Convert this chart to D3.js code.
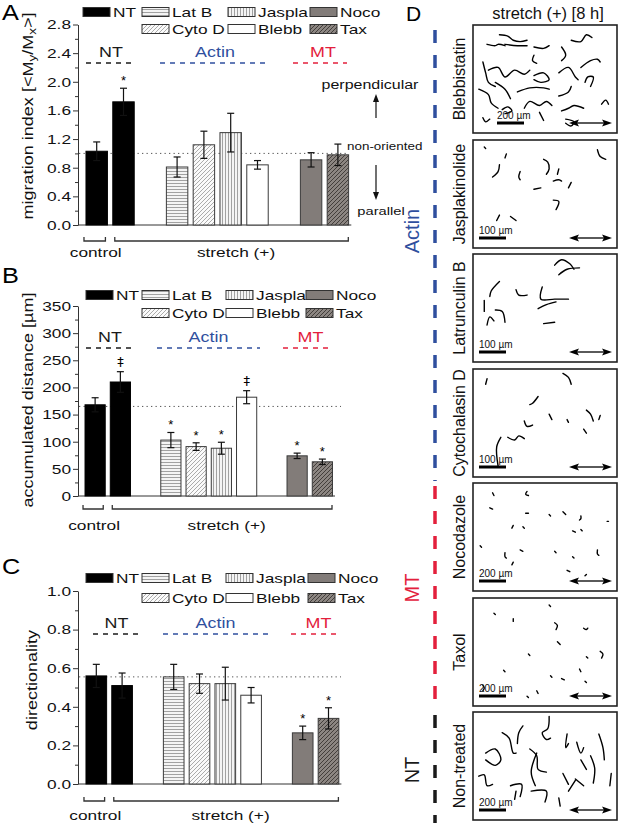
<!DOCTYPE html>
<html><head><meta charset="utf-8">
<script src="https://cdn.jsdelivr.net/npm/d3@7"></script>
<style>body{margin:0;background:#fff}svg{display:block;font-family:"Liberation Sans",Arial,sans-serif}</style>
</head><body>
<script>
// ---------- DATA ----------
const categories = ["NT control","NT","Lat B","Cyto D","Jaspla","Blebb","Noco","Tax"];
const slots = [0,1,3,4,5,6,8,9];
const legendItems = ["NT","Lat B","Jaspla","Noco","Cyto D","Blebb","Tax"];
const legendKeys  = ["NT","Lat B","Jaspla","Noco","Cyto D","Blebb","Tax"];

const migrationIndex = [1.03,1.72,0.81,1.12,1.29,0.84,0.91,0.98];
const migrationErr   = [0.13,0.19,0.14,0.19,0.27,0.06,0.10,0.15];
const migrationSig   = ["","*","","","","","",""];
const migrationTicks = [0,0.4,0.8,1.2,1.6,2.0,2.4,2.8];
const migrationMinor = [0.2,0.6,1.0,1.4,1.8,2.2,2.6];
const migrationRef = 1.0;

const distance     = [168,210,103,91,88,182,74,63];
const distanceErr  = [13,19,14,7,11,12,5,5];
const distanceSig  = ["","‡","*","*","*","‡","*","*"];
const distanceTicks = [0,50,100,150,200,250,300,350];
const distanceMinor = [25,75,125,175,225,275,325];
const distanceRef = 165;

const directionality    = [0.56,0.51,0.555,0.52,0.52,0.46,0.265,0.34];
const directionalityErr = [0.06,0.065,0.065,0.05,0.085,0.04,0.035,0.055];
const directionalitySig = ["","","","","","","*","*"];
const directionalityTicks = [0,0.2,0.4,0.6,0.8,1.0];
const directionalityMinor = [0.1,0.3,0.5,0.7,0.9];
const directionalityRef = 0.555;

const groupLabels = ["NT","Actin","MT"];

// Panel D: drug names, scale-bar labels, groups and trajectories (box units 0-100 x 0-75)
const drugNames = ["Blebbistatin","Jasplakinolide","Latrunculin B","Cytochalasin D","Nocodazole","Taxol","Non-treated"];
const scaleLabels = ["200 µm","100 µm","100 µm","100 µm","200 µm","200 µm","200 µm"];
const drugGroups = ["Actin","Actin","Actin","Actin","MT","MT","NT"];
const tracksBlebb = ["8,12 14,13 16,12 21,13","17,5 23,6 27,9 32,10 37,9","21,12 30,13 37,13","42,14 49,15 53,13","62,14 65,20 62,24","69,9 76,10 80,5 84,7","42,20 41,24 44,26","5,25 7,33 9,40 14,43","9,31 16,29 21,36 28,31 35,34 39,31","14,40 21,45 25,52","42,35 49,33 53,38 47,40 42,38","60,33 67,29 72,36 74,38","76,29 83,24 88,23 90,25","79,40 81,36 85,36 83,43","30,47 39,44 49,44 53,45","60,50 67,47 69,43","19,60 23,58 26,61 21,63","35,59 39,54 46,57 51,54 55,57","46,62 49,68","62,61 67,59 71,57 78,59","5,66 7,69 10,67","65,67 71,69 69,72 65,70","91,56 94,53 96,56","2,45 9,49 11,55 16,59"];
const tracksJaspla = ["6,3 7,4","22,8 21,11","17,16 16,21 12,25","32,21 31,25 32,27","49,12 52,14 53,19 51,23","60,19 59,23","56,28 60,27 62,28","69,29 67,33","42,34 47,33","56,42 60,43 58,49","88,5 90,10 94,12","17,53 15,57","25,54 29,57"];
const tracksLatB = ["57,6 62,2 68,5 71,9","60,13 66,9 75,8","17,18 11,25 10,29","29,24 31,28 37,28","48,22 47,31 57,31 67,31","45,38 51,35 58,33","6,32 6,40","8,50 10,44 13,47","14,39 19,40 21,48","49,49 57,48"];
const tracksCyto = ["8,5 7,9","63,1 67,4 69,9","45,18 41,23 39,24","53,31 55,35","66,35 67,37","80,28 83,31 85,36","90,32 89,35","78,42 80,45","35,36 37,40 41,39","23,48 28,50 31,47 35,49","18,48 15,55 16,69"];
const tracksNoco = ["12,5 13,7","37,4 36,6 38,7","10,16 12,17","36,20 38,20","53,21 54,22","63,19 65,21","76,22 76,24 75,25","95,26 96,26","26,31 27,29","34,30 35,31","70,33 72,34","76,32 77,33","3,44 4,45","21,49 21,52 22,53","32,47 34,48","57,48 58,49","88,47 88,50 89,51","26,58 27,56","66,62 68,63","79,66 80,65","70,52 71,53"];
const tracksTaxol = ["53,3 54,4","13,9 14,10","27,13 27,15","57,16 59,18 58,21","78,20 80,21 81,20","59,30 61,32","38,39 39,40","90,37 92,39 91,42","80,41 81,42","75,50 76,52","20,51 21,52","54,55 55,56","62,57 64,58","79,59 80,60","5,62 6,64 5,66","44,66 45,68","37,70 38,71"];
const tracksNT = ["34,8 31,13 30,21","19,13 24,17 27,28 29,28","53,1 52,10 48,13 51,18 54,17","39,25 44,30 45,40 51,42","44,28 40,42 43,52","7,28 14,25 18,33 14,37 7,33","2,45 6,44 8,52 12,51","66,14 65,24 67,21","73,20 76,28 78,24","89,14 92,24 93,33","83,30 86,39 85,50","76,33 80,40","63,43 67,51","72,47 78,52","98,43 97,52","25,52 33,51 32,60","40,56 51,56 50,64","60,61 61,67","29,56 28,62","72,48 67,56"];
const allTracks = [tracksBlebb,tracksJaspla,tracksLatB,tracksCyto,tracksNoco,tracksTaxol,tracksNT];

// ---------- DRAWING ----------
const W = 620, H = 823;
const svg = d3.select("body").append("svg").attr("width",W).attr("height",H);
const defs = svg.append("defs");
function pat(id, w, h, bg, lines, stroke, sw){
  const p = defs.append("pattern").attr("id",id).attr("patternUnits","userSpaceOnUse").attr("width",w).attr("height",h);
  p.append("rect").attr("width",w).attr("height",h).attr("fill",bg);
  lines.forEach(l=>p.append("line").attr("x1",l[0]).attr("y1",l[1]).attr("x2",l[2]).attr("y2",l[3]).attr("stroke",stroke).attr("stroke-width",sw));
}
pat("pLat",4,3,"#f4f4f4",[[0,0.5,4,0.5]],"#8c8c8c",0.8);
pat("pJas",3,4,"#f4f4f4",[[0.5,0,0.5,4]],"#8c8c8c",0.8);
pat("pCyto",4,4,"#fafafa",[[0,4,4,0],[-1,1,1,-1],[3,5,5,3]],"#8a8a8a",0.7);
pat("pTax",4,4,"#8c8682",[[0,4,4,0],[-1,1,1,-1],[3,5,5,3]],"#3b3633",0.9);
const fills = {"NT":"#000","Lat B":"url(#pLat)","Cyto D":"url(#pCyto)","Jaspla":"url(#pJas)","Blebb":"#fff","Noco":"#827c79","Tax":"url(#pTax)"};
const catKey = ["NT","NT","Lat B","Cyto D","Jaspla","Blebb","Noco","Tax"];
const groupColors = {"NT":"#1a1a1a","Actin":"#2f4f9e","MT":"#e3203c"};

const SX = 1.28;
function wtext(sel, x, y, str, o={}){
  const t = sel.append("text")
    .attr("transform",`translate(${x},${y})`+(o.rotate?` rotate(${o.rotate})`:"")+` scale(${o.sx===undefined?SX:o.sx},1)`)
    .attr("text-anchor",o.anchor||"start").attr("font-size",o.size||13).attr("fill",o.fill||"#111");
  if(o.family) t.attr("font-family",o.family);
  if(str!==null) t.text(str);
  return t;
}

function drawPanel(c){
  const g = svg.append("g");
  const y = d3.scaleLinear().domain([c.ticks[0],c.ticks[c.ticks.length-1]]).range(c.yr);
  const x = d3.scaleBand().domain(d3.range(10)).range([c.r0,c.r1]).paddingInner(0.2).paddingOuter(0.1);
  const bw = x.bandwidth();
  wtext(g, c.letterPos[0], c.letterPos[1], c.letter, {size:22, sx:1.15, fill:"#000"});
  const ax = g.append("g").attr("transform",`translate(78,0)`)
    .call(d3.axisLeft(y).tickValues(c.ticks).tickSize(5).tickSizeOuter(0).tickFormat(""));
  const axm = g.append("g").attr("transform",`translate(78,0)`)
    .call(d3.axisLeft(y).tickValues(c.minor).tickSize(3).tickSizeOuter(0).tickFormat(""));
  [ax,axm].forEach(a=>{a.selectAll("path,line").attr("stroke","#333").attr("stroke-width",1);});
  axm.select("path").remove();
  c.ticks.forEach(v=>wtext(g,71,y(v)+4.8,c.fmt(v),{size:13.5,anchor:"end"}));
  g.append("line").attr("x1",78).attr("x2",c.r1).attr("y1",y(0)).attr("y2",y(0)).attr("stroke","#333");
  g.append("line").attr("x1",79).attr("x2",c.refEnd).attr("y1",y(c.ref)).attr("y2",y(c.ref))
    .attr("stroke","#555").attr("stroke-width",1).attr("stroke-dasharray","1.3,3.2");
  g.selectAll("rect.bar").data(c.values).join("rect").attr("class","bar")
    .attr("x",(d,i)=>x(slots[i])).attr("width",bw)
    .attr("y",d=>y(d)).attr("height",d=>y(0)-y(d))
    .attr("fill",(d,i)=>fills[catKey[i]]).attr("stroke",(d,i)=>i<2?"#000":"#3a3a3a").attr("stroke-width",1);
  c.values.forEach((v,i)=>{
    const cx = x(slots[i])+bw/2, e = c.err[i];
    const eg = g.append("g").attr("stroke","#111").attr("stroke-width",1.2);
    eg.append("line").attr("x1",cx).attr("x2",cx).attr("y1",y(v+e)).attr("y2",y(v-e));
    eg.append("line").attr("x1",cx-3.5).attr("x2",cx+3.5).attr("y1",y(v+e)).attr("y2",y(v+e));
    eg.append("line").attr("x1",cx-3.5).attr("x2",cx+3.5).attr("y1",y(v-e)).attr("y2",y(v-e));
    if(c.sig[i]){
      const dag = c.sig[i]!=="*";
      wtext(g,cx,y(v+e)-(dag?6:3),c.sig[i],{size:13,anchor:"middle",sx:1,fill:"#000",family:dag?"DejaVu Sans":null});
    }
  });
  legendItems.forEach((name,k)=>{
    const row = k<4?0:1, col = k<4?k:k-3;
    const sx0 = c.legX[col], cy = c.legY[row];
    g.append("rect").attr("x",sx0).attr("y",cy-4.5).attr("width",27).attr("height",9)
      .attr("fill",fills[legendKeys[k]]).attr("stroke","#333").attr("stroke-width",1);
    wtext(g,sx0+30,cy+5,name,{size:13.5});
  });
  groupLabels.forEach((gl,k)=>{
    const col = groupColors[gl];
    const gx = c.groups[k];
    wtext(g,(gx[0]+gx[1])/2+(gl==="MT"?3:0), c.groupY-6, gl, {size:14,anchor:"middle",fill:col});
    g.append("line").attr("x1",gx[0]).attr("x2",gx[1]).attr("y1",c.groupY).attr("y2",c.groupY)
      .attr("stroke",col).attr("stroke-width",1.5).attr("stroke-dasharray","5,5");
  });
  const by = c.brY;
  const br = (x1,x2)=>g.append("path").attr("d",`M${x1},${by-4}V${by}H${x2}V${by-4}`).attr("fill","none").attr("stroke","#333").attr("stroke-width",1.3);
  br(x(0)-2, x(0)+bw-2);
  br(x(1)+2, c.r1-3);
  wtext(g,x(0)+bw/2-1,c.labY,"control",{size:13.5,anchor:"middle"});
  wtext(g,(x(1)+c.r1)/2+4,c.labY,"stretch (+)",{size:13.5,anchor:"middle"});
  const t = wtext(g,c.titleX,c.titleY,null,{size:14.8,anchor:"middle",rotate:-90,sx:1.22});
  c.title(t);
  return {g,y,x};
}

const A = drawPanel({letter:"A",letterPos:[2,20],ticks:migrationTicks,minor:migrationMinor,yr:[225,24.5],r0:83.3,r1:351.3,
  values:migrationIndex,err:migrationErr,sig:migrationSig,ref:migrationRef,refEnd:346,fmt:v=>v.toFixed(1),
  legX:[83,142,228,310],legY:[12,29],groups:[[86,136],[160,270],[293,347]],groupY:63,brY:241,labY:257,
  titleX:33,titleY:116,
  title:t=>{t.append("tspan").text("migration index  [<M");t.append("tspan").attr("font-size",11).attr("dy",3).text("y");
    t.append("tspan").attr("dy",-3).text("/M");t.append("tspan").attr("font-size",11).attr("dy",3).text("x");t.append("tspan").attr("dy",-3).text(">]");}});
wtext(A.g,370,89,"perpendicular",{size:12.5,anchor:"middle"});
wtext(A.g,347,150,"non-oriented",{size:10.5});
wtext(A.g,381,215,"parallel",{size:11.5,anchor:"middle"});
const arr = (x0,y0,y1)=>{
  A.g.append("line").attr("x1",x0).attr("x2",x0).attr("y1",y0).attr("y2",y1+(y1<y0?6:-6)).attr("stroke","#111").attr("stroke-width",1.2);
  const d = y1<y0?1:-1;
  A.g.append("path").attr("d",`M${x0},${y1}L${x0-3},${y1+8*d}L${x0+3},${y1+8*d}Z`).attr("fill","#111");
};
arr(376,118,94); arr(376,165,200);

drawPanel({letter:"B",letterPos:[2,283],ticks:distanceTicks,minor:distanceMinor,yr:[496,306],r0:82.5,r1:335,
  values:distance,err:distanceErr,sig:distanceSig,ref:distanceRef,refEnd:341,fmt:v=>String(v),
  legX:[86,142,226,306],legY:[295,313],groups:[[86,134],[157,260],[283,332]],groupY:348,brY:509,labY:530,
  titleX:33,titleY:400,
  title:t=>t.text("accumulated distance [µm]")});

drawPanel({letter:"C",letterPos:[2,574],ticks:directionalityTicks,minor:directionalityMinor,yr:[784,591],r0:83.4,r1:341.4,
  values:directionality,err:directionalityErr,sig:directionalitySig,ref:directionalityRef,refEnd:341,fmt:v=>v.toFixed(1),
  legX:[86,142,226,308],legY:[578,598],groups:[[93,140],[163,268],[291,340]],groupY:634,brY:801,labY:820,
  titleX:37,titleY:680,
  title:t=>t.text("directionality")});

// ---------- Panel D ----------
const D = svg.append("g");
wtext(D,406,21,"D",{size:21,sx:1.0,fill:"#000"});
wtext(D,548,19,"stretch (+) [8 h]",{size:16.5,anchor:"middle",sx:1});
const boxTop = d3.scaleLinear().domain([0,6]).range([25,712]);
const boxX = 473, boxW = 144, boxH = 108;
const tx = d3.scaleLinear().domain([0,100]).range([boxX+3, boxX+boxW-3]);
drugNames.forEach((name,i)=>{
  const by0 = Math.round(boxTop(i));
  const ty = d3.scaleLinear().domain([0,75]).range([by0+3, by0+boxH-3]);
  const bg = D.append("g");
  bg.append("rect").attr("x",boxX).attr("y",by0).attr("width",boxW).attr("height",boxH)
    .attr("fill","#fff").attr("stroke","#222").attr("stroke-width",1.6);
  const line = d3.line().x(p=>tx(p[0])).y(p=>ty(p[1])).curve(d3.curveCatmullRom);
  allTracks[i].forEach(s=>{
    const pts = s.split(" ").map(q=>q.split(",").map(Number));
    bg.append("path").attr("d",line(pts)).attr("fill","none").attr("stroke","#000").attr("stroke-width",1.4).attr("stroke-linecap","round");
  });
  const sb0 = i===0?boxX+24:boxX+6, yb = by0+boxH-10;
  bg.append("line").attr("x1",sb0).attr("x2",sb0+27).attr("y1",yb).attr("y2",yb).attr("stroke","#000").attr("stroke-width",3);
  bg.append("text").attr("x",sb0).attr("y",yb-4).attr("font-size",10).attr("fill","#111").text(scaleLabels[i]);
  const a0 = boxX+96, a1 = boxX+139;
  bg.append("line").attr("x1",a0+6).attr("x2",a1-6).attr("y1",yb).attr("y2",yb).attr("stroke","#000").attr("stroke-width",1.3);
  bg.append("path").attr("d",`M${a0},${yb}L${a0+10},${yb-3.5}L${a0+8},${yb}L${a0+10},${yb+3.5}Z`).attr("fill","#000");
  bg.append("path").attr("d",`M${a1},${yb}L${a1-10},${yb-3.5}L${a1-8},${yb}L${a1-10},${yb+3.5}Z`).attr("fill","#000");
  bg.append("text").attr("transform",`translate(465,${by0+boxH/2}) rotate(-90)`).attr("text-anchor","middle")
    .attr("font-size",16).attr("fill","#111").text(name);
});
const seg = [["Actin",30,481],["MT",486,710],["NT",715,823]];
seg.forEach(s=>{
  D.append("line").attr("x1",435).attr("x2",435).attr("y1",s[1]).attr("y2",s[2])
    .attr("stroke",groupColors[s[0]]).attr("stroke-width",3.5).attr("stroke-dasharray","13,12");
});
const labPos = {"Actin":231,"MT":588,"NT":770};
Object.keys(labPos).forEach(k=>{
  D.append("text").attr("transform",`translate(419,${labPos[k]}) rotate(-90)`).attr("text-anchor","middle")
    .attr("font-size",20).attr("fill",groupColors[k]).text(k);
});
</script>
</body></html>
